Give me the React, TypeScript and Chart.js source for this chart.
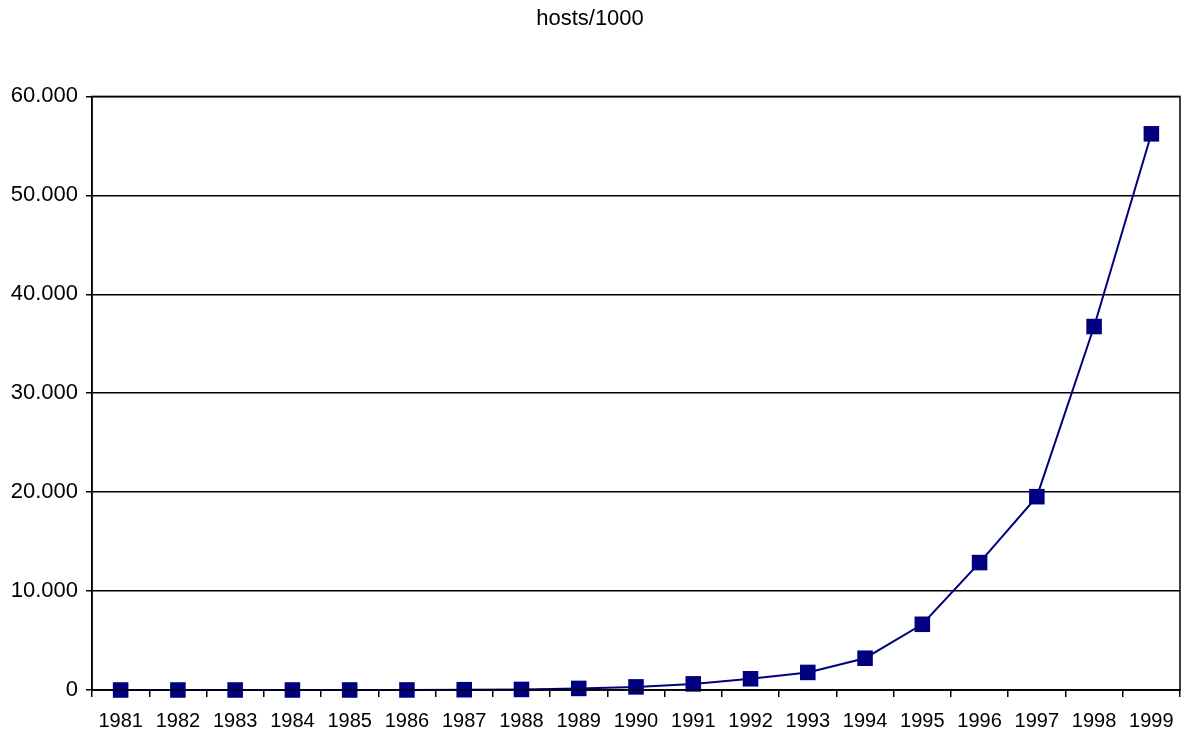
import React, { useEffect, useRef } from "react";
import { Chart, registerables } from "chart.js";

Chart.register(...registerables);

const years = ["1981","1982","1983","1984","1985","1986","1987","1988","1989","1990","1991","1992","1993","1994","1995","1996","1997","1998","1999"];
const hosts = [0.2, 0.2, 0.6, 1.0, 2.0, 5.1, 28, 56, 159, 313, 617, 1136, 1776, 3212, 6642, 12881, 19540, 36739, 56218];
const chartTitle = "hosts/1000";
const yMax = 60000;
const yStep = 10000;

const fmt = (v: number) => String(Math.round(v)).replace(/\B(?=(\d{3})+(?!\d))/g, ".");

const frame = {
  id: "frame",
  afterDraw(chart: any) {
    const { ctx, chartArea: a } = chart;
    ctx.save();
    ctx.strokeStyle = "#000";
    ctx.lineWidth = 1.5;
    ctx.strokeRect(a.left, a.top, a.right - a.left, a.bottom - a.top);
    ctx.restore();
  },
};

export default function App() {
  const ref = useRef<HTMLCanvasElement>(null);
  useEffect(() => {
    document.body.style.margin = "0";
    const font = "'Liberation Sans', Arial, sans-serif";
    const chart = new Chart(ref.current!, {
      type: "line",
      data: {
        labels: years,
        datasets: [
          {
            data: hosts,
            borderColor: "#000080",
            backgroundColor: "#000080",
            borderWidth: 2,
            pointStyle: "rect",
            pointRadius: 11,
            pointBorderWidth: 0,
            tension: 0,
            clip: false as any,
          },
        ],
      },
      options: {
        animation: false,
        responsive: false,
        layout: { autoPadding: false, padding: { left: 0, right: 3, top: 0, bottom: 0 } },
        plugins: {
          legend: { display: false },
          tooltip: { enabled: false },
          title: {
            display: true,
            text: chartTitle,
            color: "#000",
            font: { family: font, size: 22, weight: "normal" },
            padding: { top: 6, bottom: 64 },
          },
        },
        scales: {
          x: {
            offset: true,
            grid: { offset: true, drawOnChartArea: false, drawTicks: true, tickLength: 7, color: "#000", lineWidth: 1.5 },
            border: { color: "#000", width: 1.5 },
            ticks: { color: "#000", font: { family: font, size: 20 }, padding: 12, maxRotation: 0, autoSkip: false },
            afterFit: (s: any) => { s.height = 50; },
            afterUpdate: (s: any) => { s.paddingLeft = 0; s.paddingRight = 0; },
          },
          y: {
            min: 0,
            max: yMax,
            ticks: { stepSize: yStep, color: "#000", font: { family: font, size: 22 }, padding: 8, callback: (v: any) => fmt(Number(v)) },
            grid: { color: "#000", lineWidth: 1.5, tickLength: 6, drawTicks: true },
            border: { color: "#000", width: 1.5 },
            afterFit: (s: any) => { s.width = 92; },
          },
        },
      },
      plugins: [frame],
    });
    return () => chart.destroy();
  }, []);
  return (
    <div style={{ position: "absolute", left: 0, top: 0, width: 1183, height: 740, background: "#fff", overflow: "hidden" }}>
      <canvas ref={ref} width={1183} height={740} style={{ width: 1183, height: 740 }} />
    </div>
  );
}
